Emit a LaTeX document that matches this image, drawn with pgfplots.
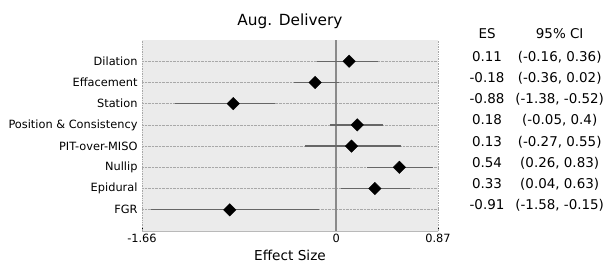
\documentclass[border=0pt]{standalone}
\usepackage{fontspec}
\setmainfont{DejaVu Sans}
\usepackage{pgfplots}
\usepackage{pgfplotstable}
\pgfplotsset{compat=1.18}
\definecolor{bg}{HTML}{EBEBEB}
\definecolor{errc}{HTML}{666666}
\definecolor{zeroc}{HTML}{8A8A8A}
\definecolor{gridc}{HTML}{A8A8A8}

\pgfplotstableread{
y   es     lo     hi
8   0.11  -0.16   0.36
7  -0.18  -0.36   0.02
6  -0.88  -1.38  -0.52
5   0.18  -0.05   0.40
4   0.13  -0.27   0.55
3   0.54   0.26   0.83
2   0.33   0.04   0.63
1  -0.91  -1.58  -0.15
}\datatable

\begin{document}
\begin{tikzpicture}
\begin{axis}[
  scale only axis,
  width=296bp, height=191bp,
  xmin=-1.66, xmax=0.87, ymin=0, ymax=9,
  clip=false,
  axis background/.style={fill=bg},
  axis line style={draw=none},
  xtick={-1.66,0,0.87},
  xticklabels={-1.66,0,0.87},
  ytick={1,2,3,4,5,6,7,8},
  yticklabels={FGR,Epidural,Nullip,PIT-over-MISO,Position \& Consistency,Station,Effacement,Dilation},
  ymajorgrids,
  grid style={densely dotted, gridc, line width=0.6pt},
  ytick style={draw=none},
  xtick style={black, line width=0.6pt},
  tick align=inside,
  major tick length=3bp,
  xtick pos=bottom,
  ticklabel style={font=\fontsize{11.4}{13}\selectfont},
  /pgf/number format/assume math mode=true,
  yticklabel style={xshift=-1bp},
  xlabel={Effect Size},
  xlabel style={font=\fontsize{13.7}{16}\selectfont, yshift=0bp},
  title={Aug. Delivery},
  title style={font=\fontsize{15.4}{18}\selectfont, yshift=2bp},
]
% frame lines
\addplot[densely dotted, gridc, line width=0.7pt, forget plot] coordinates {(-1.66,0) (-1.66,9)};
\addplot[densely dotted, gridc, line width=0.7pt, forget plot] coordinates {(0.87,0) (0.87,9)};
\addplot[gray!55, line width=0.8pt, forget plot] coordinates {(-1.66,0) (0.87,0)};
% zero line
\addplot[zeroc, line width=1.8pt, forget plot] coordinates {(0,0) (0,9)};
% confidence intervals
\addplot[draw=none, mark=none,
  error bars/.cd, x dir=both, x explicit,
  error mark=none,
  error bar style={errc, line width=1.3pt}]
  table[x=es, y=y,
        x error plus expr=\thisrow{hi}-\thisrow{es},
        x error minus expr=\thisrow{es}-\thisrow{lo}] {\datatable};
% point estimates
\addplot[only marks, mark=square*, mark size=4.4bp,
  mark options={rotate=45, fill=black, draw=black}]
  table[x=es, y=y] {\datatable};
% table at right
\begin{scope}[font=\fontsize{13.5}{16}\selectfont, every node/.style={anchor=base, inner sep=0pt}]
\node at (axis cs:1.289,9.08) {ES};
\node at (axis cs:1.91,9.08) {95\% CI};
\node at (axis cs:1.289,8) {0.11};
\node at (axis cs:1.289,7) {-0.18};
\node at (axis cs:1.289,6) {-0.88};
\node at (axis cs:1.289,5) {0.18};
\node at (axis cs:1.289,4) {0.13};
\node at (axis cs:1.289,3) {0.54};
\node at (axis cs:1.289,2) {0.33};
\node at (axis cs:1.289,1) {-0.91};
\node at (axis cs:1.91,8) {(-0.16, 0.36)};
\node at (axis cs:1.91,7) {(-0.36, 0.02)};
\node at (axis cs:1.91,6) {(-1.38, -0.52)};
\node at (axis cs:1.91,5) {(-0.05, 0.4)};
\node at (axis cs:1.91,4) {(-0.27, 0.55)};
\node at (axis cs:1.91,3) {(0.26, 0.83)};
\node at (axis cs:1.91,2) {(0.04, 0.63)};
\node at (axis cs:1.91,1) {(-1.58, -0.15)};
\end{scope}
\coordinate (bl) at (axis cs:-1.66,0);
\coordinate (tr) at (axis cs:0.87,9);
\end{axis}
\pgfresetboundingbox
\path ([shift={(-142bp,-33bp)}]bl) rectangle ([shift={(167bp,40bp)}]tr);
\end{tikzpicture}
\end{document}
